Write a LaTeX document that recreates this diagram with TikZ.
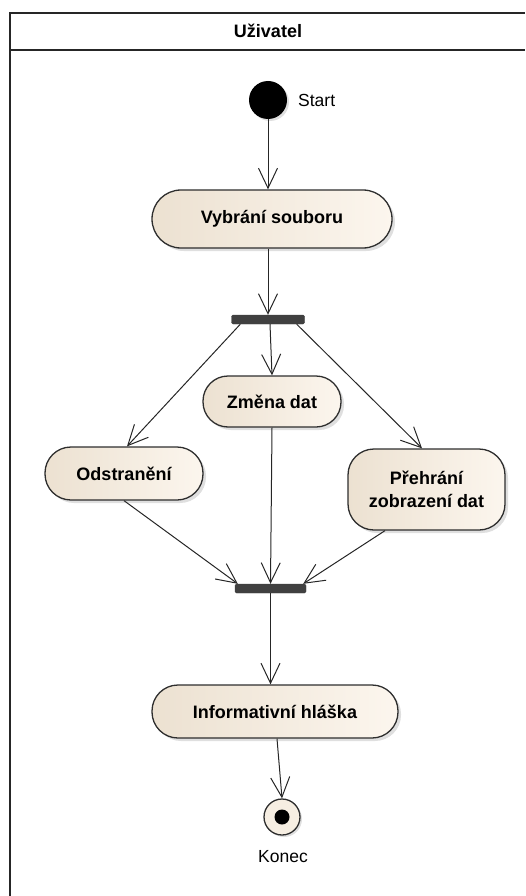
\documentclass[tikz,border=0pt]{standalone}
\usepackage{fontspec}
\setmainfont{Liberation Sans}
\usetikzlibrary{arrows.meta,shadows,calc}
\definecolor{actleft}{HTML}{ECE1D1}
\definecolor{actright}{HTML}{FCF6EE}
\definecolor{actborder}{HTML}{2E2E2E}
\definecolor{barfill}{HTML}{404040}
\tikzset{
  act/.style={draw=actborder, line width=1.3pt, left color=actleft, right color=actright,
    drop shadow={opacity=0.25, shadow xshift=3pt, shadow yshift=-3pt},
    font=\fontsize{18}{21}\selectfont\bfseries, align=center, inner sep=0pt},
  syncbar/.style={fill=barfill, draw=barfill, rounded corners=1.5pt, inner sep=0pt,
    minimum width=#1, minimum height=9pt},
  flow/.style={draw=black!85, line width=1pt,
    -{Straight Barb[length=20pt,width=19pt,line width=1pt]}},
  lbl/.style={font=\fontsize{17.5}{20}\selectfont, inner sep=0pt},
}
\begin{document}
\begin{tikzpicture}[x=1pt,y=-1pt]
\useasboundingbox (0,0) rectangle (525,896);
% swimlane frame
\draw[line width=1.8pt, draw=black!85] (525,13) -- (10,13) -- (10,896);
\draw[line width=1.8pt, draw=black!85] (10,50) -- (525,50);
\node[font=\fontsize{18}{21}\selectfont\bfseries] (lane) at (268,31) {Uživatel};

% initial and final states
\node[circle, fill=black, minimum size=38pt, inner sep=0pt,
  drop shadow={opacity=0.25, shadow xshift=2pt, shadow yshift=-2pt}] (start) at (268,100) {};
\node[lbl, anchor=west] (startlbl) at (298,100) {Start};

\node[circle, draw=actborder, line width=1.3pt, fill=actright!60!actleft, minimum size=36pt,
  inner sep=0pt, drop shadow={opacity=0.25, shadow xshift=2pt, shadow yshift=-2pt}] (end) at (282,817) {};
\node[circle, fill=black, minimum size=15pt, inner sep=0pt] (enddot) at (end) {};
\node[lbl] (endlbl) at (283,857) {Konec};

% actions
\node[act, minimum width=240pt, minimum height=58pt, rounded corners=29pt] (vyb) at (272,219) {Vybrání souboru};
\node[act, minimum width=138pt, minimum height=51pt, rounded corners=25pt] (zmena) at (272,401.5) {Změna dat};
\node[act, minimum width=158pt, minimum height=53pt, rounded corners=26pt] (odst) at (124,473.5) {Odstranění};
\node[act, minimum width=157pt, minimum height=81pt, rounded corners=26pt] (preh) at (426.5,489.5) {Přehrání\\[2pt]zobrazení dat};
\node[act, minimum width=246pt, minimum height=53pt, rounded corners=26pt] (info) at (275,711.5) {Informativní hláška};

% fork and join bars
\node[syncbar=73pt] (fork) at (268,319.5) {};
\node[syncbar=71pt] (join) at (270.5,588.5) {};

% control flows
\draw[flow] (start) -- (start |- vyb.north);
\draw[flow] ([xshift=-4pt]vyb.south) -- (fork.north);
\draw[flow] ([xshift=2pt]fork.south) -- (zmena.north);
\draw[flow] ([xshift=9pt]fork.south west) -- ([xshift=3pt]odst.north);
\draw[flow] ([xshift=-8pt]fork.south east) -- ([xshift=-4.5pt]preh.north);
\draw[flow] (odst.south) -- ([xshift=3pt]join.north west);
\draw[flow] (zmena.south) -- (join.north);
\draw[flow] ([xshift=-41.5pt]preh.south) -- ([xshift=-3pt]join.north east);
\draw[flow] (join.south) -- (join.south |- info.north);
\draw[flow] ([xshift=2pt]info.south) -- (end.north);
\end{tikzpicture}
\end{document}
